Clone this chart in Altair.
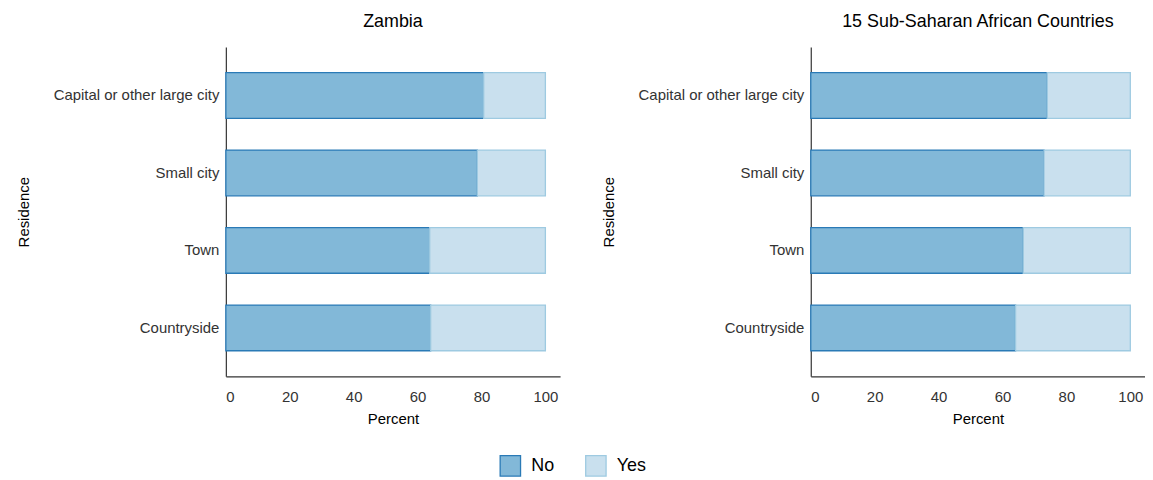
import altair as alt
import pandas as pd

residence = ["Capital or other large city", "Small city", "Town", "Countryside"]
zambia_no = [80.7, 78.7, 63.8, 64.1]
ssa_no = [74.0, 73.0, 66.5, 64.1]
responses = ["No", "Yes"]

rows = []
for panel, vals in [("Zambia", zambia_no), ("SSA", ssa_no)]:
    for r, v in zip(residence, vals):
        rows.append({"panel": panel, "Residence": r, "Response": "No", "Percent": v, "ord": 0})
        rows.append({"panel": panel, "Residence": r, "Response": "Yes", "Percent": round(100 - v, 1), "ord": 1})
df = pd.DataFrame(rows)

fill_scale = alt.Scale(domain=responses, range=["#82b8d8", "#c9e0ee"])
stroke_scale = alt.Scale(domain=responses, range=["#2a7ab6", "#9ecae1"])

legend = alt.Legend(
    title=None, orient="none", direction="horizontal", legendX=275, legendY=410,
    symbolType="square", symbolSize=420, symbolStrokeWidth=1.3, labelFontSize=18,
    labelColor="#000000", columnPadding=28, labelOffset=10, symbolOpacity=1,
)


def panel_chart(name, title):
    return alt.Chart(df[df.panel == name]).mark_bar(strokeWidth=1.3, opacity=1).encode(
        x=alt.X("Percent:Q", stack="zero",
                scale=alt.Scale(domain=[0, 104.6], nice=False, zero=True),
                axis=alt.Axis(values=[0, 20, 40, 60, 80, 100], title="Percent", grid=False,
                              ticks=False, labelPadding=13, titlePadding=7)),
        y=alt.Y("Residence:N", sort=residence,
                scale=alt.Scale(paddingInner=0.41, paddingOuter=0.33),
                axis=alt.Axis(title="Residence", grid=False, ticks=False, labelPadding=7,
                              titlePadding=22)),
        fill=alt.Fill("Response:N", scale=fill_scale, legend=legend, sort=responses),
        stroke=alt.Stroke("Response:N", scale=stroke_scale, legend=legend, sort=responses),
        order=alt.Order("ord:Q"),
    ).properties(
        width=336, height=331,
        title=alt.TitleParams(title, frame="group", fontSize=18, fontWeight="normal",
                              color="#000000", offset=16),
    )


chart = alt.hconcat(
    panel_chart("Zambia", "Zambia"),
    panel_chart("SSA", "15 Sub-Saharan African Countries"),
    spacing=41,
).properties(
    padding={"left": 8, "top": 4, "right": 0, "bottom": 0}
).configure_view(stroke=None).configure_axis(
    labelFont="Liberation Sans", titleFont="Liberation Sans", labelFontSize=15,
    titleFontSize=15, labelColor="#333333", titleColor="#000000", titleFontWeight="normal",
    domainColor="#333333", domainWidth=1.2,
).configure_title(font="Liberation Sans").configure_legend(labelFont="Liberation Sans")

chart.save("out.html", embed_options={"renderer": "svg", "actions": False})
